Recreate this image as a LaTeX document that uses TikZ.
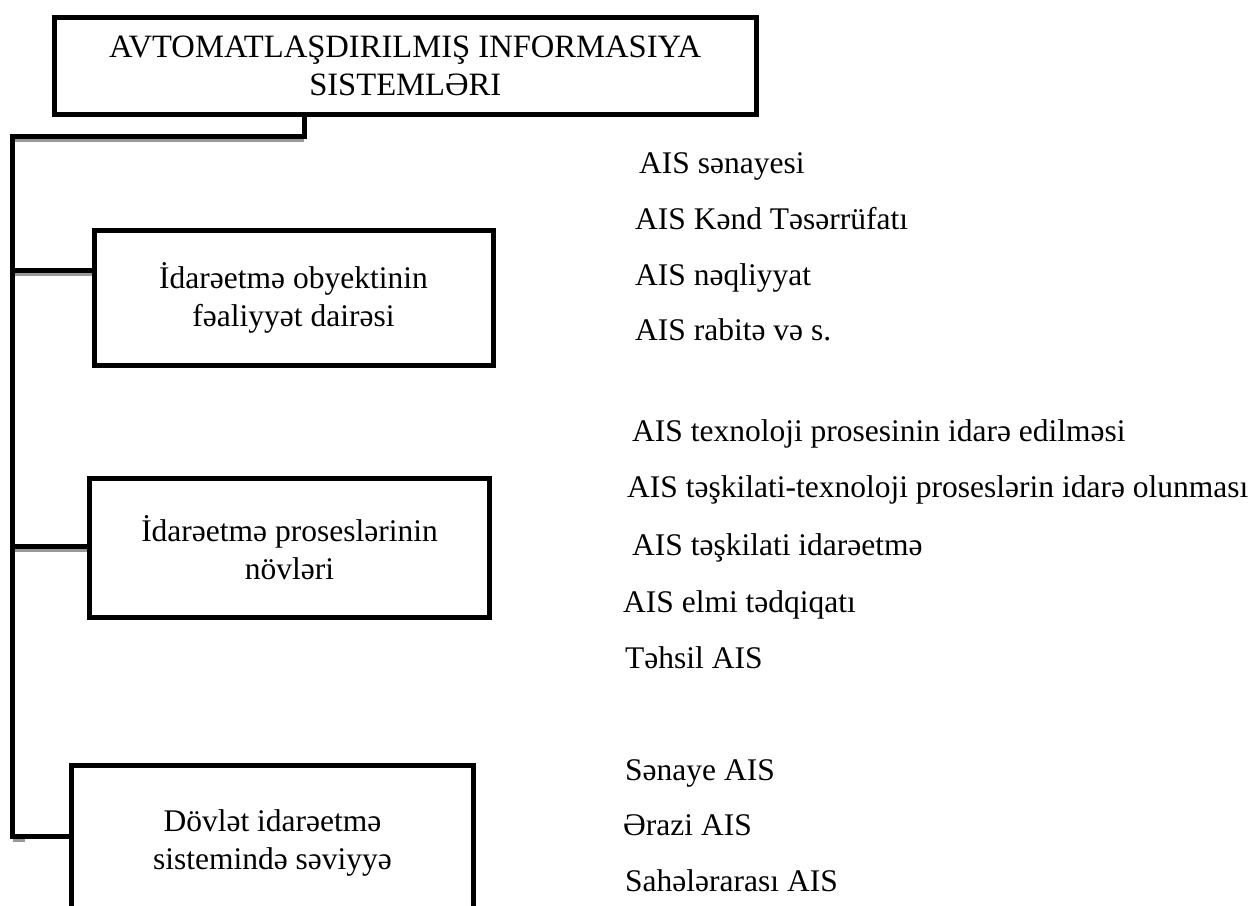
\documentclass[tikz,border=0pt]{standalone}
\usepackage{fontspec}
\setmainfont{Liberation Serif}
\begin{document}
\begin{tikzpicture}[x=1pt,y=-1pt,
  box/.style={draw=black, line width=5pt, fill=white, inner sep=0pt, align=center,
              font=\fontsize{31.5}{37.8}\selectfont},
  conn/.style={draw=black, line width=5pt},
  shade/.style={draw=black!40, line width=3pt},
  item/.style={anchor=base west, inner sep=0pt, font=\fontsize{31.5}{37.8}\selectfont}]
\clip (0,0) rectangle (1258,905);
\fill[white] (0,0) rectangle (1258,905);

% coordinates of the tree
\coordinate (stub) at (304,114.5);
\coordinate (corner) at (12.5,136.5);
\coordinate (j1) at (12.5,270);
\coordinate (j2) at (12.5,546);
\coordinate (j3) at (12.5,836);

% shadows of connectors
\draw[shade] ([yshift=-4pt]corner) -- ([yshift=-4pt,xshift=291.5pt]corner);
\draw[shade] ([yshift=-4pt]j1) -- ([yshift=-4pt,xshift=81.5pt]j1);
\draw[shade] ([yshift=-4pt]j2) -- ([yshift=-4pt,xshift=77pt]j2);
\draw[shade] ([yshift=-4pt]j3) -- ([yshift=-4pt,xshift=12pt]j3);

% boxes
\node[box, minimum width=701.5pt, minimum height=97pt,
      font=\fontsize{32.6}{37.5}\selectfont] (top) at (405.25,66)
  {AVTOMATLAŞDIRILMIŞ INFORMASIYA\\SISTEMLƏRI};
\node[box, minimum width=399pt, minimum height=135.5pt] (b1) at (293.5,297.75)
  {İdarəetmə obyektinin\\fəaliyyət dairəsi};
\node[box, minimum width=400pt, minimum height=139pt] (b2) at (289.5,548)
  {İdarəetmə proseslərinin\\növləri};
\node[box, minimum width=402pt, minimum height=154.5pt] (b3) at (272.5,842.75)
  {Dövlət idarəetmə\\sistemində səviyyə};

% connectors
\draw[conn] (stub) |- (corner) -- (j3) -- (j3 -| b3.west);
\draw[conn] (j1) -- (j1 -| b1.west);
\draw[conn] (j2) -- (j2 -| b2.west);

% lists
\node[item] (a1) at (639,173) {AIS sənayesi};
\node[item] (a2) at (635,229) {AIS Kənd Təsərrüfatı};
\node[item] (a3) at (635,285) {AIS nəqliyyat};
\node[item] (a4) at (635,340) {AIS rabitə və s.};

\node[item] (p1) at (632,441) {AIS texnoloji prosesinin idarə edilməsi};
\node[item] (p2) at (627,497) {AIS təşkilati-texnoloji proseslərin idarə olunması};
\node[item] (p3) at (632,555) {AIS təşkilati idarəetmə};
\node[item] (p4) at (623,612) {AIS elmi tədqiqatı};
\node[item] (p5) at (625,668) {Təhsil AIS};

\node[item] (d1) at (625,780) {Sənaye AIS};
\node[item] (d2) at (623,835) {Ərazi AIS};
\node[item] (d3) at (625,891) {Sahələrarası AIS};
\end{tikzpicture}
\end{document}
